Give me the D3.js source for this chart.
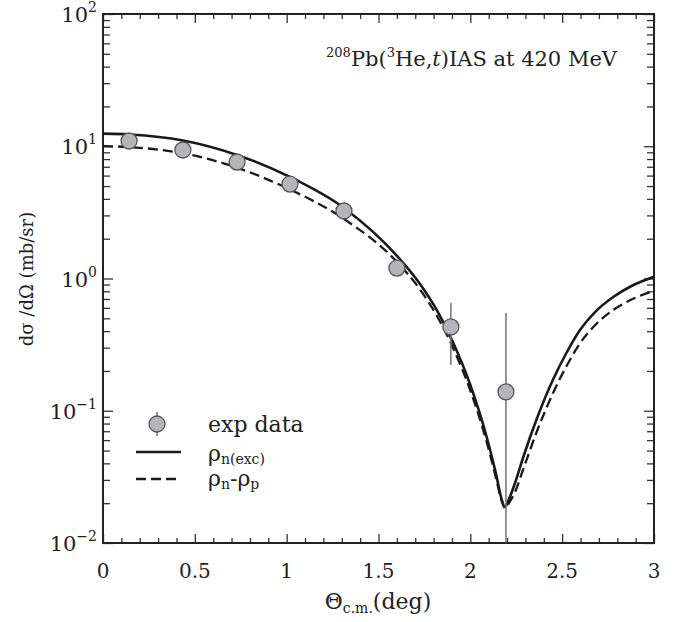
<!DOCTYPE html>
<html><head><meta charset="utf-8">
<script src="https://cdn.jsdelivr.net/npm/d3@7"></script>
<style>body{margin:0;background:#fff}svg{display:block}text{font-family:"DejaVu Serif","Liberation Serif",serif;fill:#222}</style>
</head><body>
<svg id="c" width="687" height="622"></svg>
<script>
// ---- data ----
const expX = [0.142, 0.435, 0.73, 1.018, 1.312, 1.60, 1.894, 2.194];
const expY = [10.96, 9.37, 7.6, 5.18, 3.24, 1.20, 0.43, 0.139];
const expLo = [10.5, 9.0, 7.3, 5.0, 3.1, 1.15, 0.222, 0.005];
const expHi = [11.4, 9.8, 7.9, 5.4, 3.4, 1.26, 0.653, 0.548];

const solidX = [0, 0.147, 0.4355, 0.7295, 1.018, 1.312, 1.6007, 1.726, 1.8169, 1.9073, 1.998, 2.089, 2.1436, 2.167, 2.1887, 2.2105, 2.2432, 2.2884, 2.3613, 2.4517, 2.52, 2.597, 2.68, 2.778, 2.88, 3.0];
const solidY = [12.45, 12.27, 11.05, 8.59, 5.855, 3.413, 1.48, 0.9088, 0.578, 0.3254, 0.1594, 0.0633, 0.03155, 0.02227, 0.01872, 0.02151, 0.02843, 0.04469, 0.0866, 0.1739, 0.2686, 0.4079, 0.560, 0.7247, 0.881, 1.03];

const dashX = [0, 0.147, 0.4355, 0.7295, 1.018, 1.312, 1.6007, 1.726, 1.8169, 1.9073, 1.998, 2.089, 2.1436, 2.167, 2.1887, 2.2105, 2.2432, 2.2884, 2.3613, 2.4517, 2.52, 2.597, 2.68, 2.778, 2.88, 3.0];
const dashY = [10.04, 9.85, 8.844, 6.883, 4.71, 2.818, 1.333, 0.8257, 0.5252, 0.2957, 0.1448, 0.058, 0.02943, 0.02151, 0.0184, 0.02007, 0.0243, 0.03627, 0.0691, 0.1374, 0.2128, 0.3236, 0.445, 0.578, 0.696, 0.807];

const xTickVals = [0, 0.5, 1, 1.5, 2, 2.5, 3];
const xTickLabels = ["0", "0.5", "1", "1.5", "2", "2.5", "3"];
const yTickVals = [0.01, 0.1, 1, 10, 100];
const yTickExps = ["\u22122", "\u22121", "0", "1", "2"];

// ---- layout ----
const L = 103, R = 654, T = 14, B = 543;
const svg = d3.select("#c");
const x = d3.scaleLinear().domain([0, 3]).range([L, R]);
const y = d3.scaleLog().domain([0.01, 100]).range([B, T]);

const xMinor = d3.range(0, 31).map(i => i / 10).filter(v => !xTickVals.some(t => Math.abs(t - v) < 1e-9));
const yMinor = [];
[0.01, 0.1, 1, 10].forEach(d => { for (let m = 2; m <= 9; m++) yMinor.push(d * m); });

function styleAxis(g) {
  g.select(".domain").remove();
  g.selectAll("line").attr("stroke", "#333").attr("stroke-width", 1.3);
  g.selectAll("text").remove();
}
svg.append("g").attr("transform", `translate(0,${B})`).call(d3.axisBottom(x).tickValues(xTickVals).tickSizeInner(-9).tickSizeOuter(0)).call(styleAxis);
svg.append("g").attr("transform", `translate(0,${B})`).call(d3.axisBottom(x).tickValues(xMinor).tickSizeInner(-5).tickSizeOuter(0)).call(styleAxis);
svg.append("g").attr("transform", `translate(0,${T})`).call(d3.axisTop(x).tickValues(xTickVals).tickSizeInner(-9).tickSizeOuter(0)).call(styleAxis);
svg.append("g").attr("transform", `translate(0,${T})`).call(d3.axisTop(x).tickValues(xMinor).tickSizeInner(-5).tickSizeOuter(0)).call(styleAxis);
svg.append("g").attr("transform", `translate(${L},0)`).call(d3.axisLeft(y).tickValues(yTickVals).tickSizeInner(-10).tickSizeOuter(0)).call(styleAxis);
svg.append("g").attr("transform", `translate(${L},0)`).call(d3.axisLeft(y).tickValues(yMinor).tickSizeInner(-7).tickSizeOuter(0)).call(styleAxis);
svg.append("g").attr("transform", `translate(${R},0)`).call(d3.axisRight(y).tickValues(yTickVals).tickSizeInner(-10).tickSizeOuter(0)).call(styleAxis);
svg.append("g").attr("transform", `translate(${R},0)`).call(d3.axisRight(y).tickValues(yMinor).tickSizeInner(-7).tickSizeOuter(0)).call(styleAxis);

svg.append("rect").attr("x", L).attr("y", T).attr("width", R - L).attr("height", B - T)
  .attr("fill", "none").attr("stroke", "#222").attr("stroke-width", 2);

// tick labels
svg.append("g").selectAll("text").data(xTickVals).join("text")
  .attr("x", d => x(d)).attr("y", B + 35).attr("text-anchor", "middle")
  .attr("font-size", 20).text((d, i) => xTickLabels[i]);

const yl = svg.append("g").selectAll("text").data(yTickVals).join("text")
  .attr("x", 97).attr("y", d => y(d) + 8).attr("text-anchor", "end").attr("font-size", 21);
yl.append("tspan").text("10");
yl.append("tspan").attr("dy", -10).attr("font-size", 14).text((d, i) => yTickExps[i]);

// axis titles
const xt = svg.append("text").attr("x", 378).attr("y", 609).attr("text-anchor", "middle").attr("font-size", 22);
xt.append("tspan").text("\u0398");
xt.append("tspan").attr("font-size", 14).attr("dy", 4).text("c.m.");
xt.append("tspan").attr("dy", -4).text("(deg)");

svg.append("text").attr("transform", "translate(33,279) rotate(-90)").attr("text-anchor", "middle")
  .attr("font-size", 18).text("d\u03c3 /d\u03a9 (mb/sr)");

// annotation
const an = svg.append("text").attr("x", 617).attr("y", 66).attr("text-anchor", "end").attr("font-size", 21);
an.append("tspan").attr("font-size", 13).attr("dy", -9).text("208");
an.append("tspan").attr("dy", 9).text("Pb(");
an.append("tspan").attr("font-size", 13).attr("dy", -9).text("3");
an.append("tspan").attr("dy", 9).text("He,");
an.append("tspan").attr("font-style", "italic").text("t");
an.append("tspan").text(")IAS at 420 MeV");

// curves
const line = d3.line().x(d => x(d[0])).y(d => y(d[1])).curve(d3.curveMonotoneX);
svg.append("clipPath").attr("id", "pc").append("rect").attr("x", L).attr("y", T).attr("width", R - L).attr("height", B - T);
const plot = svg.append("g").attr("clip-path", "url(#pc)");
plot.append("path").datum(solidX.map((v, i) => [v, solidY[i]])).attr("d", line)
  .attr("fill", "none").attr("stroke", "#1a1a1a").attr("stroke-width", 2.6);
plot.append("path").datum(dashX.map((v, i) => [v, dashY[i]])).attr("d", line)
  .attr("fill", "none").attr("stroke", "#1a1a1a").attr("stroke-width", 2.3).attr("stroke-dasharray", "10,5");

// error bars + points
plot.append("g").selectAll("line").data(expX).join("line")
  .attr("x1", d => x(d)).attr("x2", d => x(d))
  .attr("y1", (d, i) => y(Math.max(expLo[i], 0.0101))).attr("y2", (d, i) => y(expHi[i]))
  .attr("stroke", "#7a7a7a").attr("stroke-width", 1.6);
plot.append("g").selectAll("circle").data(expX).join("circle")
  .attr("cx", d => x(d)).attr("cy", (d, i) => y(expY[i])).attr("r", 8)
  .attr("fill", "#b4b5b8").attr("stroke", "#555").attr("stroke-width", 1.3);

// legend
const lg = svg.append("g");
lg.append("line").attr("x1", 157).attr("x2", 157).attr("y1", 412).attr("y2", 436).attr("stroke", "#7a7a7a").attr("stroke-width", 1.6);
lg.append("circle").attr("cx", 157).attr("cy", 424).attr("r", 8).attr("fill", "#b4b5b8").attr("stroke", "#555").attr("stroke-width", 1.3);
lg.append("text").attr("x", 208).attr("y", 432).attr("font-size", 22).text("exp data");
lg.append("line").attr("x1", 136).attr("x2", 181).attr("y1", 452).attr("y2", 452).attr("stroke", "#1a1a1a").attr("stroke-width", 2.6);
const t1 = lg.append("text").attr("x", 208).attr("y", 461).attr("font-size", 22);
t1.append("tspan").text("\u03c1");
t1.append("tspan").attr("font-size", 14).attr("dy", 3).text("n(exc)");
lg.append("line").attr("x1", 136).attr("x2", 181).attr("y1", 479).attr("y2", 479).attr("stroke", "#1a1a1a").attr("stroke-width", 2.3).attr("stroke-dasharray", "10,5");
const t2 = lg.append("text").attr("x", 208).attr("y", 486).attr("font-size", 22);
t2.append("tspan").text("\u03c1");
t2.append("tspan").attr("font-size", 14).attr("dy", 3).text("n");
t2.append("tspan").attr("dy", -3).text("-\u03c1");
t2.append("tspan").attr("font-size", 14).attr("dy", 3).text("p");
</script>
</body></html>
